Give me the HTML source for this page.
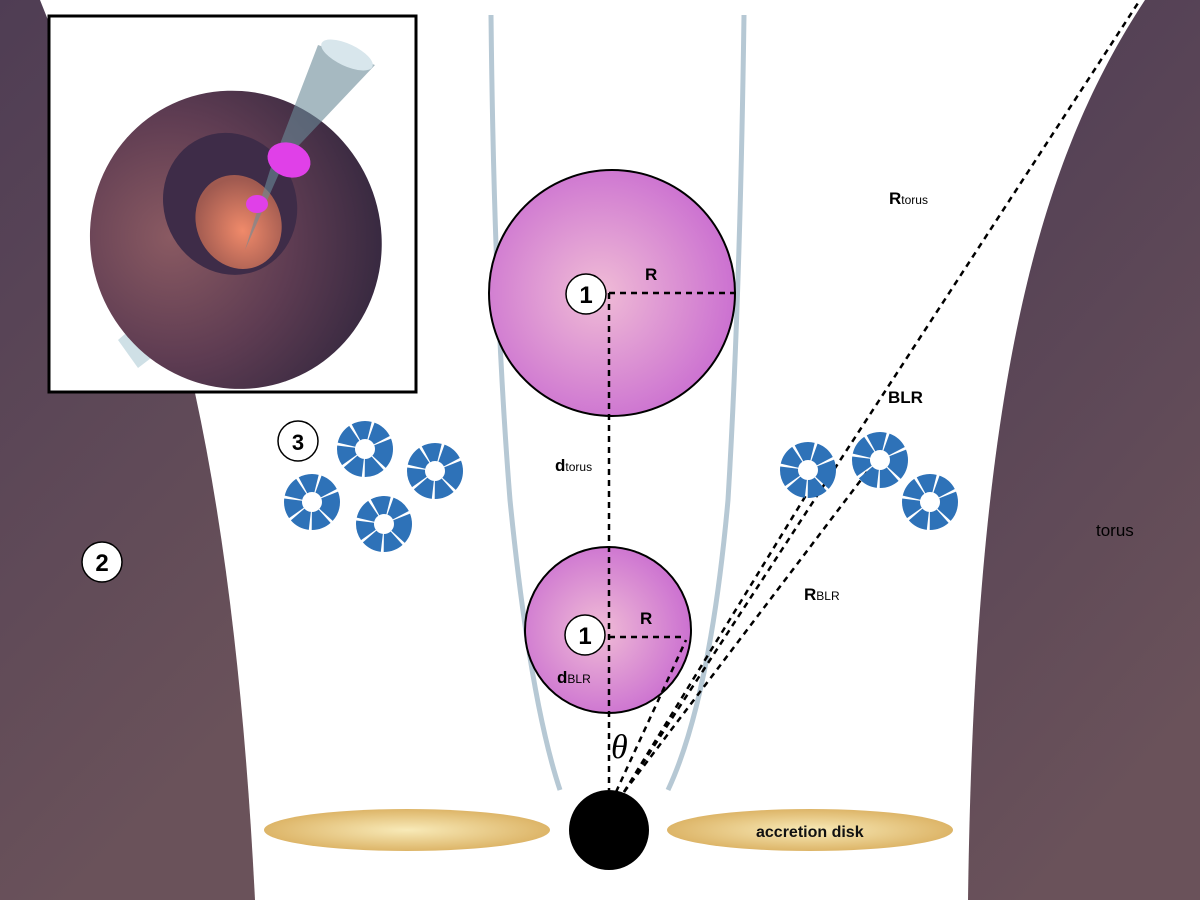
<!DOCTYPE html>
<html><head><style>
html,body{margin:0;padding:0;background:#fff;}
svg{display:block;font-family:"Liberation Sans",sans-serif;}
</style></head><body>
<svg width="1200" height="900" viewBox="0 0 1200 900" xmlns="http://www.w3.org/2000/svg">
<defs>
<linearGradient id="tor" x1="0" y1="0" x2="0.3" y2="1">
<stop offset="0" stop-color="#4f3d54"/><stop offset="1" stop-color="#6a525a"/></linearGradient>
<radialGradient id="sph" cx="0.45" cy="0.5" r="0.6">
<stop offset="0" stop-color="#f0bcd6"/><stop offset="1" stop-color="#c86ad0"/></radialGradient>
<radialGradient id="disk" cx="0.5" cy="0.5" r="0.5">
<stop offset="0" stop-color="#f8eab8"/><stop offset="1" stop-color="#ddb568"/></radialGradient>
<radialGradient id="dn" cx="0.3" cy="0.4" r="0.75">
<stop offset="0" stop-color="#8a5a62"/><stop offset="0.55" stop-color="#5e3c52"/><stop offset="1" stop-color="#35283f"/></radialGradient>
<radialGradient id="hole" cx="0.5" cy="0.6" r="0.55">
<stop offset="0" stop-color="#f08a6a"/><stop offset="1" stop-color="#a05a50"/></radialGradient>
<clipPath id="box"><rect x="49" y="16" width="367" height="376"/></clipPath>
</defs>
<path d="M0,0 L40,0 Q120,200 195,393 Q240,600 255,900 L0,900 Z" fill="url(#tor)"/>
<path d="M1200,0 L1145,0 C1040,160 975,380 968,900 L1200,900 Z" fill="url(#tor)"/>
<path d="M491,15 Q494,300 510,500 Q530,700 560,790" fill="none" stroke="#b6c8d4" stroke-width="5"/>
<path d="M744,15 Q740,300 728,500 Q710,700 668,790" fill="none" stroke="#b6c8d4" stroke-width="5"/>
<ellipse cx="407" cy="830" rx="143" ry="21" fill="url(#disk)"/>
<ellipse cx="810" cy="830" rx="143" ry="21" fill="url(#disk)"/>
<text x="756" y="837" font-size="16" fill="#111" font-weight="bold">accretion disk</text>
<circle cx="609" cy="830" r="40" fill="#000"/>
<circle cx="612" cy="293" r="123" fill="url(#sph)" stroke="#000" stroke-width="2"/>
<circle cx="608" cy="630" r="83" fill="url(#sph)" stroke="#000" stroke-width="2"/>
<g stroke="#000" stroke-width="2.5" stroke-dasharray="6,5" fill="none">
<line x1="609" y1="293" x2="609" y2="790"/>
<line x1="609" y1="293" x2="737" y2="293"/>
<line x1="609" y1="637" x2="686" y2="637"/>
<line x1="624" y1="792" x2="1140" y2="0"/>
<line x1="624" y1="792" x2="867" y2="472"/>
<line x1="624" y1="792" x2="808" y2="492"/>
<line x1="616" y1="792" x2="686" y2="640"/>
</g>
<g fill="#000" font-weight="bold">
<circle cx="586" cy="294" r="20" fill="#fff" stroke="#000" stroke-width="1.5"/>
<text x="586" y="303" font-size="24" text-anchor="middle">1</text>
<circle cx="585" cy="635" r="20" fill="#fff" stroke="#000" stroke-width="1.5"/>
<text x="585" y="644" font-size="24" text-anchor="middle">1</text>
<circle cx="102" cy="562" r="20" fill="#fff" stroke="#000" stroke-width="1.5"/>
<text x="102" y="571" font-size="24" text-anchor="middle">2</text>
<circle cx="298" cy="441" r="20" fill="#fff" stroke="#000" stroke-width="1.5"/>
<text x="298" y="450" font-size="22" text-anchor="middle">3</text>
<text x="645" y="280" font-size="17">R</text>
<text x="640" y="624" font-size="17">R</text>
<text x="889" y="204" font-size="17">R<tspan font-size="12" font-weight="normal">torus</tspan></text>
<text x="888" y="403" font-size="17">BLR</text>
<text x="804" y="600" font-size="17">R<tspan font-size="12" font-weight="normal">BLR</tspan></text>
<text x="555" y="471" font-size="17">d<tspan font-size="12" font-weight="normal">torus</tspan></text>
<text x="557" y="683" font-size="17">d<tspan font-size="12" font-weight="normal">BLR</tspan></text>
<text x="1096" y="536" font-size="17" font-weight="normal">torus</text>
<text x="611" y="758" font-size="34" font-weight="normal" font-style="italic" font-family="Liberation Serif,serif">θ</text>
</g>
<g fill="none" stroke="#2e72b8" stroke-width="18" stroke-dasharray="14,2">
<circle cx="365" cy="449" r="19"/>
<circle cx="435" cy="471" r="19"/>
<circle cx="312" cy="502" r="19"/>
<circle cx="384" cy="524" r="19"/>
<circle cx="808" cy="470" r="19"/>
<circle cx="880" cy="460" r="19"/>
<circle cx="930" cy="502" r="19"/>
</g>
<rect x="49" y="16" width="367" height="376" fill="#fff"/>
<g clip-path="url(#box)">
<path d="M118,340 L138,368 L155,355 L132,328 Z" fill="#cfe0e6"/>
<g transform="rotate(-25 235 238)">
<ellipse cx="235" cy="240" rx="145" ry="150" fill="url(#dn)"/>
<ellipse cx="245" cy="205" rx="66" ry="72" fill="#3e2c48"/>
<ellipse cx="245" cy="225" rx="42" ry="48" fill="url(#hole)"/>
</g>
<path d="M318,45 L375,65 L285,160 L245,250 L270,170 Z" fill="#6a8a98" opacity="0.6"/>
<ellipse cx="347" cy="55" rx="28" ry="11" fill="#d8e6ec" transform="rotate(25 347 55)"/>
<ellipse cx="289" cy="160" rx="22" ry="17" fill="#e040e8" transform="rotate(20 289 160)"/>
<ellipse cx="257" cy="204" rx="11" ry="9" fill="#e040e8"/>
</g>
<rect x="49" y="16" width="367" height="376" fill="none" stroke="#000" stroke-width="3"/>
</svg>
</body></html>
